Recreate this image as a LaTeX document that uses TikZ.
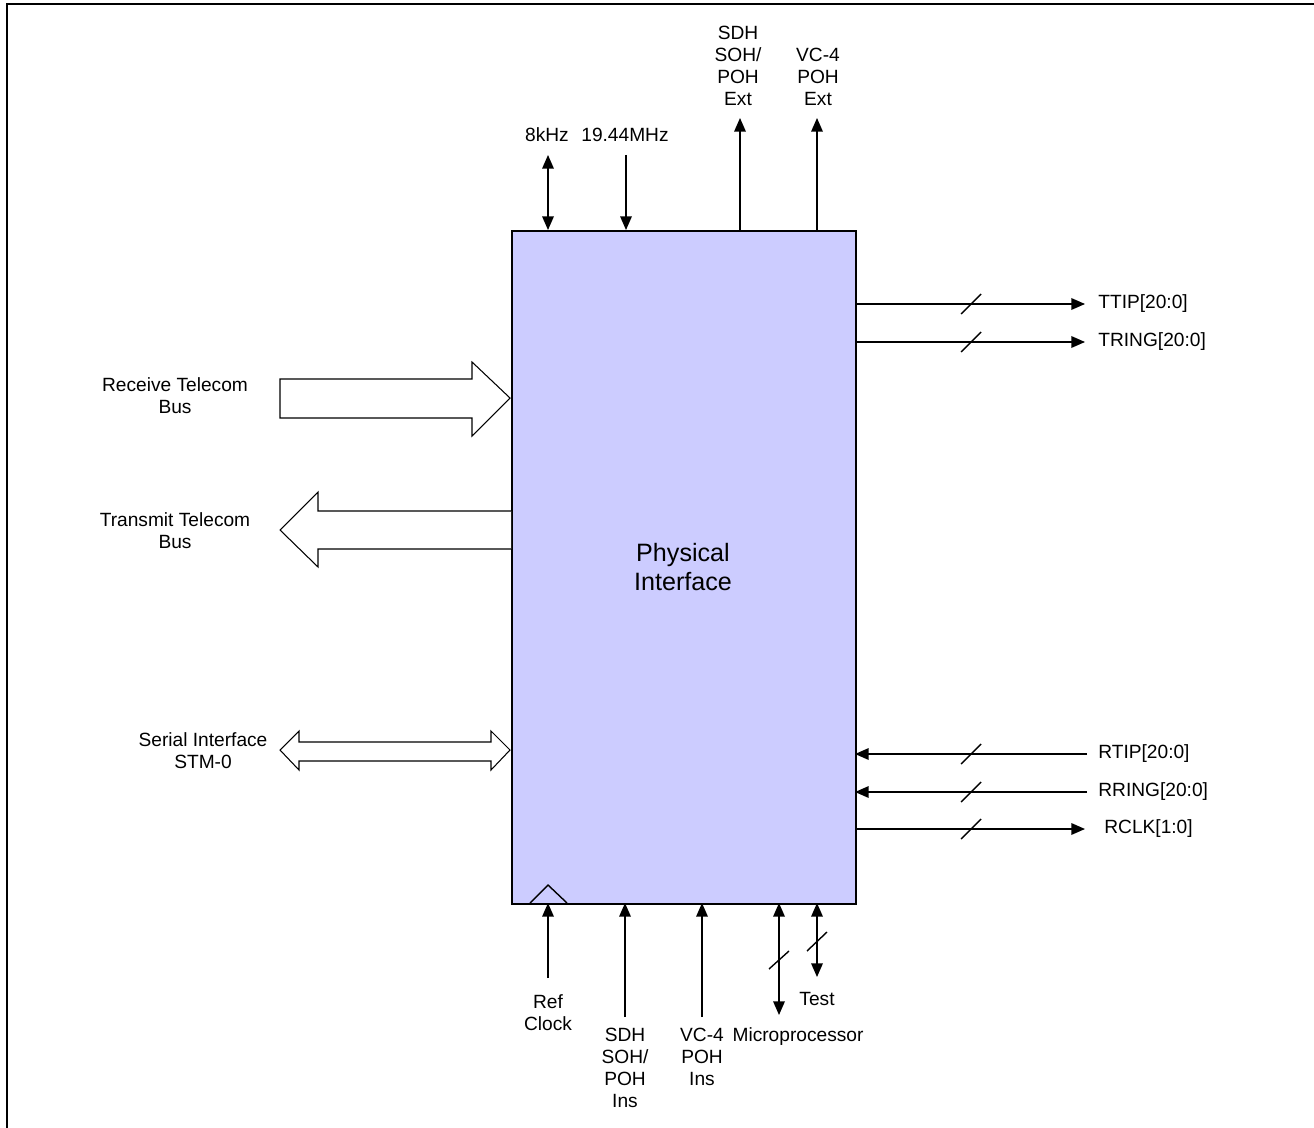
\documentclass[tikz,border=0pt]{standalone}
\usepackage{fontspec}
\setmainfont{Liberation Sans}
\usetikzlibrary{arrows.meta}
\definecolor{boxfill}{RGB}{204,204,255}
\begin{document}
\begin{tikzpicture}[x=0.02cm,y=-0.02cm,
  sig/.style={line width=0.85pt},
  tip/.style={-{Triangle[length=7.8pt,width=6.6pt]}},
  dtip/.style={{Triangle[length=7.8pt,width=6.6pt]}-{Triangle[length=7.8pt,width=6.6pt]}},
  lbl/.style={font=\fontsize{10.9}{12.5}\selectfont, inner sep=0pt, align=center},
  busarrow/.style={draw, line width=0.6pt, fill=white, line join=miter},
  slashmark/.style={line width=0.8pt}]
\useasboundingbox (0,0) rectangle (1314,1128);
% frame
\draw[line width=1.2pt] (7,1130) -- (7,4) -- (1316,4);
% main box
\node[draw, line width=1pt, fill=boxfill, minimum width=344*0.02cm, minimum height=673*0.02cm, inner sep=0pt, anchor=north west] (pi) at (511,230) {};
\node[font=\fontsize{14.3}{17}\selectfont, align=center] (pil) at (683,567) {Physical\\Interface};
% clock triangle
\draw[line width=0.8pt] (530,903) -- (548,885) -- (567,903);

% top signals
\coordinate (k8) at (548,155);
\coordinate (k8b) at (548,230);
\draw[sig,dtip] (k8) -- (k8b);
\node[lbl] (k8l) at (547,135) {8kHz};
\coordinate (m19) at (626,155);
\coordinate (m19b) at (626,230);
\draw[sig,tip] (m19) -- (m19b);
\node[lbl] (m19l) at (625,135) {19.44MHz};
\coordinate (sdhe) at (740,230);
\coordinate (sdhet) at (740,118);
\draw[sig,tip] (sdhe) -- (sdhet);
\node[lbl, anchor=south] (sdhel) at (738,106) {SDH\\SOH/\\POH\\Ext};
\coordinate (vce) at (817,230);
\coordinate (vcet) at (817,118);
\draw[sig,tip] (vce) -- (vcet);
\node[lbl, anchor=south] (vcel) at (818,106) {VC-4\\POH\\Ext};

% right signals
\foreach \nm/\yy/\txt/\lx in {ttip/304/TTIP[20:0]/1098, tring/342/TRING[20:0]/1098, rclk/829/RCLK[1:0]/1104} {
  \coordinate (\nm a) at (855,\yy);
  \coordinate (\nm b) at (1085,\yy);
  \draw[sig,tip] (\nm a) -- (\nm b);
  \draw[slashmark] (961,\yy+10) -- (981,\yy-10);
  \node[lbl, anchor=west] (\nm l) at (\lx,\yy) {\txt};
}
\foreach \nm/\yy/\txt in {rtip/754/RTIP[20:0], rring/792/RRING[20:0]} {
  \coordinate (\nm a) at (1087,\yy);
  \coordinate (\nm b) at (855,\yy);
  \draw[sig,tip] (\nm a) -- (\nm b);
  \draw[slashmark] (961,\yy+10) -- (981,\yy-10);
  \node[lbl, anchor=west] (\nm l) at (1098,\yy) {\txt};
}

% left buses
\draw[busarrow] (280,379) -- (472,379) -- (472,362) -- (510,398) -- (472,436) -- (472,418) -- (280,418) -- cycle;
\node[lbl] (rtb) at (175,396) {Receive Telecom\\Bus};
\fill[white] (280,530) -- (318,492) -- (318,511) -- (511,511) -- (511,549) -- (318,549) -- (318,567) -- cycle;
\draw[line width=0.6pt, line join=miter] (511,511) -- (318,511) -- (318,492) -- (280,530) -- (318,567) -- (318,549) -- (511,549);
\node[lbl] (ttb) at (175,531) {Transmit Telecom\\Bus};
\draw[busarrow] (280,750) -- (299,731) -- (299,742) -- (491,742) -- (491,731) -- (510,750) -- (491,770) -- (491,761) -- (299,761) -- (299,770) -- cycle;
\node[lbl] (sil) at (203,751) {Serial Interface\\STM-0};

% bottom signals
\coordinate (refa) at (548,978);
\coordinate (refb) at (548,903);
\draw[sig,tip] (refa) -- (refb);
\node[lbl, anchor=north] (refl) at (548,994) {Ref\\Clock};
\coordinate (sdhia) at (625,1017);
\coordinate (sdhib) at (625,903);
\draw[sig,tip] (sdhia) -- (sdhib);
\node[lbl, anchor=north] (sdhil) at (625,1028) {SDH\\SOH/\\POH\\Ins};
\coordinate (vcia) at (702,1017);
\coordinate (vcib) at (702,903);
\draw[sig,tip] (vcia) -- (vcib);
\node[lbl, anchor=north] (vcil) at (702,1028) {VC-4\\POH\\Ins};
\coordinate (mpa) at (779,903);
\coordinate (mpb) at (779,1015);
\draw[sig,dtip] (mpa) -- (mpb);
\draw[slashmark] (769,969) -- (789,951);
\node[lbl] (mpl) at (798,1037) {Microprocessor};
\coordinate (tsa) at (817,903);
\coordinate (tsb) at (817,977);
\draw[sig,dtip] (tsa) -- (tsb);
\draw[slashmark] (807,951) -- (827,932);
\node[lbl] (tsl) at (817,999) {Test};
\end{tikzpicture}
\end{document}
